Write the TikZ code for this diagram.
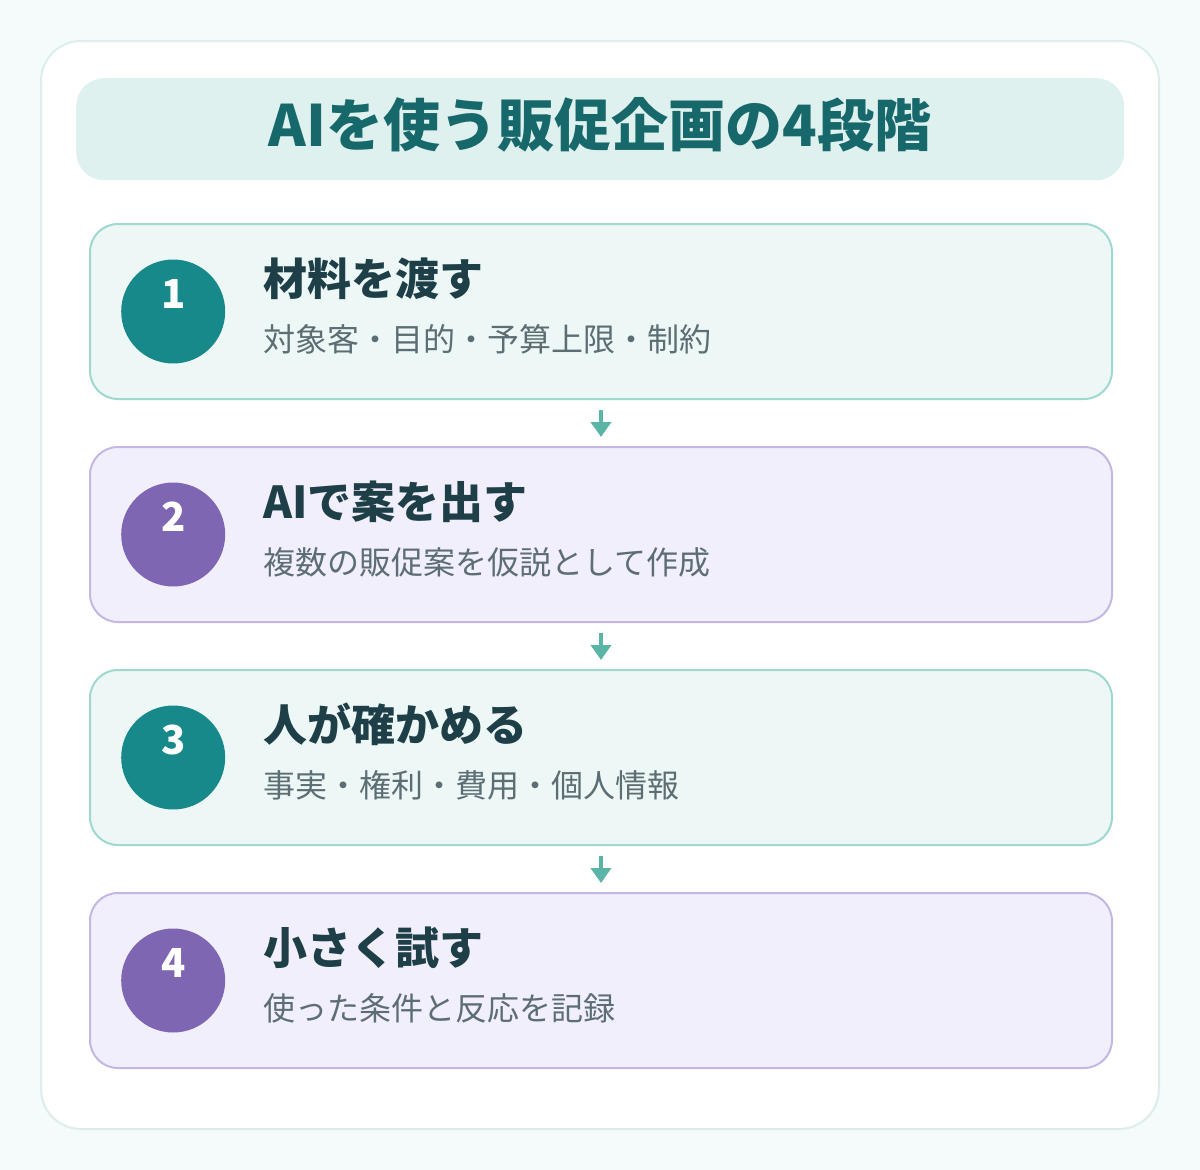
\documentclass[tikz,border=0pt]{standalone}
\usepackage{fontspec}
\setmainfont{Noto Sans CJK JP}
\usetikzlibrary{arrows.meta,positioning}

\definecolor{bgcol}{HTML}{F5FBFB}
\definecolor{cardline}{HTML}{DCEDEB}
\definecolor{titlefill}{HTML}{DFF1EF}
\definecolor{titletext}{HTML}{17686B}
\definecolor{tealfill}{HTML}{EDF8F6}
\definecolor{tealline}{HTML}{9ED8CF}
\definecolor{tealdot}{HTML}{17898A}
\definecolor{purpfill}{HTML}{F2EFFC}
\definecolor{purpline}{HTML}{C4B8E2}
\definecolor{purpdot}{HTML}{7F66B3}
\definecolor{headtext}{HTML}{1E3F47}
\definecolor{subtext}{HTML}{5C6E74}
\definecolor{arrowcol}{HTML}{5BB5A6}

\begin{document}
\begin{tikzpicture}[x=1pt,y=-1pt,
		step box/.style={rectangle,rounded corners=28pt,line width=2pt,
			minimum width=1022pt,minimum height=175pt,anchor=north west,inner sep=0pt},
		teal box/.style={step box,draw=tealline,fill=tealfill},
		purp box/.style={step box,draw=purpline,fill=purpfill},
		dot node/.style={circle,minimum size=104pt,inner sep=0pt},
		num node/.style={text=white,font=\fontsize{40}{40}\selectfont\bfseries,
			anchor=base,inner sep=0pt},
		head node/.style={text=headtext,font=\fontsize{44}{44}\selectfont\bfseries,
			anchor=base west,inner sep=0pt},
		sub node/.style={text=subtext,font=\fontsize{32}{32}\selectfont,
			anchor=base west,inner sep=0pt},
		flow/.style={draw=arrowcol,line width=4pt,
			-{Triangle[length=15pt,width=20pt]},shorten <=10pt,shorten >=9pt}]
	\useasboundingbox (0,0) rectangle (1200,1170);
	\fill[bgcol] (0,0) rectangle (1200,1170);
	%
	% Card and title band.
	\draw[cardline,fill=white,line width=2pt,rounded corners=40pt]
		(41,41) rectangle (1159,1129);
	\node[rectangle,rounded corners=28pt,fill=titlefill,minimum width=1048pt,
		minimum height=102pt,anchor=north west,inner sep=0pt] (title) at (76,78) {};
	\node[text=titletext,font=\fontsize{57}{57}\selectfont\bfseries,anchor=base,
		inner sep=0pt] (titletxt) at (600,146) {AIを使う販促企画の4段階};
	%
	% The four steps.
	\node[teal box] (b1) at (89,223) {};
	\node[dot node,fill=tealdot] (c1) [right=32pt of b1.west] {};
	\node[num node] (n1) at ([yshift=3pt]c1.center) {1};
	\node[head node] (h1) at (263,295) {材料を渡す};
	\node[sub node] (s1) at (263,351) {対象客・目的・予算上限・制約};
	%
	\node[purp box] (b2) at (89,446) {};
	\node[dot node,fill=purpdot] (c2) [right=32pt of b2.west] {};
	\node[num node] (n2) at ([yshift=3pt]c2.center) {2};
	\node[head node] (h2) at (263,518) {AIで案を出す};
	\node[sub node] (s2) at (263,574) {複数の販促案を仮説として作成};
	%
	\node[teal box] (b3) at (89,669) {};
	\node[dot node,fill=tealdot] (c3) [right=32pt of b3.west] {};
	\node[num node] (n3) at ([yshift=3pt]c3.center) {3};
	\node[head node] (h3) at (263,741) {人が確かめる};
	\node[sub node] (s3) at (263,797) {事実・権利・費用・個人情報};
	%
	\node[purp box] (b4) at (89,892) {};
	\node[dot node,fill=purpdot] (c4) [right=32pt of b4.west] {};
	\node[num node] (n4) at ([yshift=3pt]c4.center) {4};
	\node[head node] (h4) at (263,964) {小さく試す};
	\node[sub node] (s4) at (263,1020) {使った条件と反応を記録};
	%
	% Arrows between the steps.
	\draw[flow] (b1.south) -- (b2.north);
	\draw[flow] (b2.south) -- (b3.north);
	\draw[flow] (b3.south) -- (b4.north);
\end{tikzpicture}
\end{document}
